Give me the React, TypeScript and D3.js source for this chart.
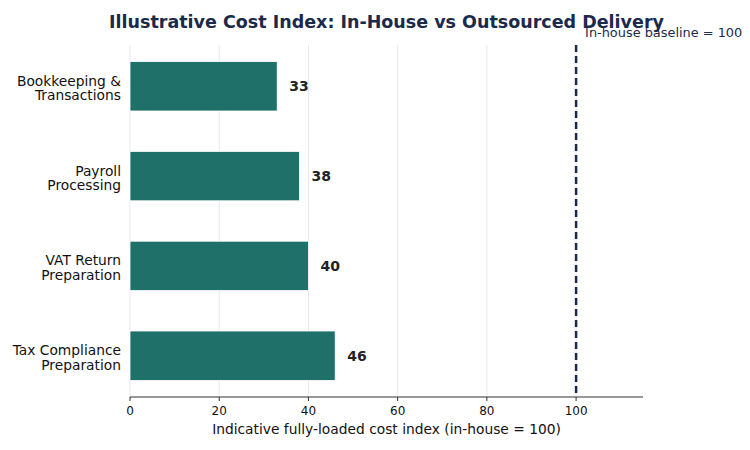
import React from 'react';
import * as d3 from 'd3';

// Data
const categories = [
  'Bookkeeping &\nTransactions',
  'Payroll\nProcessing',
  'VAT Return\nPreparation',
  'Tax Compliance\nPreparation',
];
const costIndex = [33, 38, 40, 46];
const xTicks = [0, 20, 40, 60, 80, 100];
const baselineValue = 100;

const W = 750;
const H = 450;
const margin = { top: 45, right: 107, bottom: 53, left: 130 };

const NAVY = '#1b2a4a';
const TEAL = '#20706a';
const FONT = '"DejaVu Sans", sans-serif';

const App: React.FC = () => {
  const innerW = W - margin.left - margin.right;
  const innerH = H - margin.top - margin.bottom;

  const x = d3.scaleLinear().domain([0, 115]).range([0, innerW]);
  // categories top to bottom, matplotlib-like padding around the bars
  const y = d3
    .scaleLinear()
    .domain([-0.46, categories.length - 1 + 0.46])
    .range([0, innerH]);
  const barH = (y(1) - y(0)) * 0.55;

  return (
    <svg
      width={W}
      height={H}
      style={{ position: 'fixed', left: 0, top: 0, background: '#fff', fontFamily: FONT }}
    >
      <text
        x={margin.left + innerW / 2}
        y={27.5}
        textAnchor="middle"
        fontSize={17.5}
        fontWeight="bold"
        fill={NAVY}
      >
        Illustrative Cost Index: In-House vs Outsourced Delivery
      </text>

      <g transform={`translate(${margin.left},${margin.top})`}>
        {/* vertical grid */}
        {xTicks.map((t) => (
          <line key={`g${t}`} x1={x(t)} x2={x(t)} y1={0} y2={innerH} stroke="#e6e8f1" strokeWidth={1} />
        ))}

        {/* bars */}
        {costIndex.map((v, i) => (
          <g key={i}>
            <rect
              x={x(0)}
              y={y(i) - barH / 2}
              width={x(v) - x(0)}
              height={barH}
              fill={TEAL}
              stroke="#ffffff"
              strokeWidth={0.8}
            />
            <text
              x={x(v) + 12}
              y={y(i) + 5}
              fontSize={14}
              fontWeight="bold"
              fill="#222"
            >
              {v}
            </text>
            {categories[i].split('\n').map((line, j) => (
              <text
                key={j}
                x={-9}
                y={y(i) - 0.5 + j * 14.5}
                textAnchor="end"
                fontSize={13.8}
                fill="#111"
              >
                {line}
              </text>
            ))}
          </g>
        ))}

        {/* baseline reference */}
        <line
          x1={x(baselineValue)}
          x2={x(baselineValue)}
          y1={0}
          y2={innerH}
          stroke={NAVY}
          strokeWidth={2.5}
          strokeDasharray="7,4"
        />
        <text x={x(baselineValue) + 9} y={-8} fontSize={12.9} fill={NAVY}>
          In-house baseline = {baselineValue}
        </text>

        {/* x axis */}
        <line x1={0} x2={innerW} y1={innerH} y2={innerH} stroke="#333" strokeWidth={1} />
        {xTicks.map((t) => (
          <g key={`t${t}`} transform={`translate(${x(t)},${innerH})`}>
            <line y1={0} y2={4} stroke="#333" strokeWidth={1} />
            <text y={18} textAnchor="middle" fontSize={12} fill="#111">
              {t}
            </text>
          </g>
        ))}
        <text x={innerW / 2} y={innerH + 37} textAnchor="middle" fontSize={13.8} fill="#111">
          Indicative fully-loaded cost index (in-house = 100)
        </text>
      </g>
    </svg>
  );
};

export default App;
